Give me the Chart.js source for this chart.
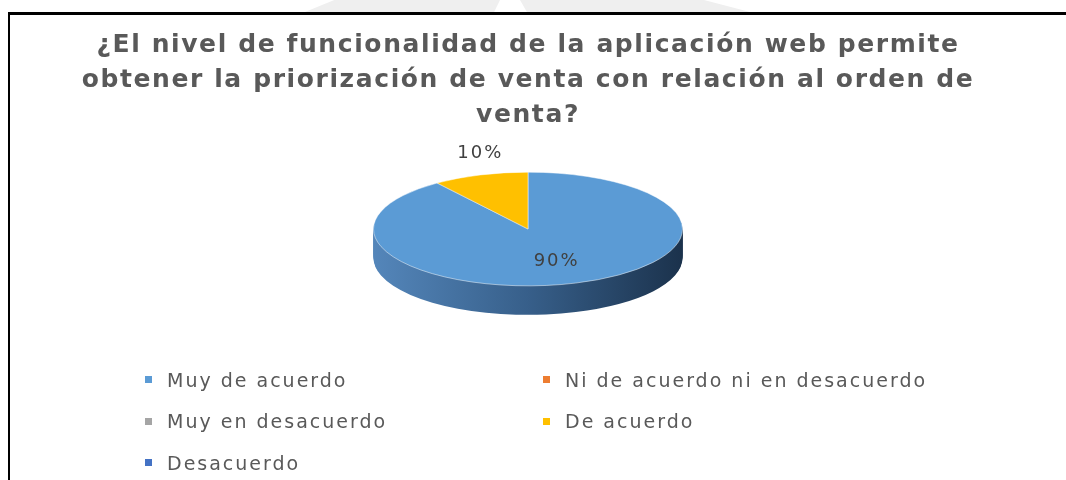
<!DOCTYPE html>
<html>
<head>
<meta charset="utf-8">
<script src="https://cdn.jsdelivr.net/npm/chart.js@4.4.1/dist/chart.umd.min.js"></script>
<style>
  html, body { margin: 0; padding: 0; background: #fff; }
  #wrap { position: relative; width: 1066px; height: 480px; overflow: hidden; }
  #wrap canvas { position: absolute; left: 0; top: 0; }
  #frame { position: absolute; left: 8px; top: 12px; right: -4px; bottom: -4px;
           border-top: 3px solid #000; border-left: 2px solid #000; pointer-events: none; }
  .wm { position: absolute; top: 0; height: 12px; background: #efefef; }
  #legend { position: absolute; left: 145px; top: 359px; display: grid;
            grid-template-columns: 398px auto; grid-auto-rows: 41.5px; }
  #legend .item { display: flex; align-items: center; font-family: 'DejaVu Sans', sans-serif;
                  font-size: 19px; letter-spacing: 2px; color: #595959; white-space: nowrap; }
  #legend .box { width: 7px; height: 7px; margin-right: 15px; flex: none; }
</style>
</head>
<body>
<div id="wrap">
  <div class="wm" style="left:305px;width:195px;clip-path:polygon(0 100%,15% 0,100% 0,97% 100%)"></div>
  <div class="wm" style="left:520px;width:230px;clip-path:polygon(3% 100%,0 0,80% 0,100% 100%)"></div>
  <canvas id="chart" width="1066" height="480"></canvas>
  <div id="frame"></div>
  <div id="legend"></div>
</div>
<script>
const TITLE_LINES = [
  '¿El nivel de funcionalidad de la aplicación web permite',
  'obtener la priorización de venta con relación al orden de',
  'venta?'
];
const LABELS = ['Muy de acuerdo', 'Ni de acuerdo ni en desacuerdo', 'Muy en desacuerdo', 'De acuerdo', 'Desacuerdo'];
const VALUES = [90, 0, 0, 10, 0]; // percent of answers
const COLORS = ['#5b9bd5', '#ed7d31', '#a5a5a5', '#ffc000', '#4472c4'];

// squashes the pie into an ellipse and extrudes a side wall, Excel 3D style
const tiltPie = {
  id: 'tiltPie',
  beforeDraw(chart) { chart.ctx.letterSpacing = '1.6px'; },
  beforeDatasetsDraw(chart, args, opts) {
    const ctx = chart.ctx;
    const arcs = chart.getDatasetMeta(0).data;
    const cx = arcs[0].x, cy = arcs[0].y, r = arcs[0].outerRadius;
    ctx.save();
    ctx.translate(0, opts.lift);
    ctx.translate(cx, cy);
    ctx.scale(1, opts.tilt);
    ctx.translate(-cx, -cy);
    const grad = ctx.createLinearGradient(cx - r, 0, cx + r, 0);
    grad.addColorStop(0, '#5486ba');
    grad.addColorStop(0.5, '#375f8a');
    grad.addColorStop(1, '#1b324c');
    for (let d = opts.depth; d > 0; d--) {
      ctx.save();
      ctx.translate(0, d / opts.tilt);
      arcs.forEach(arc => {
        if (!arc.circumference) return;
        const keep = arc.options;
        arc.options = Object.assign({}, keep, { backgroundColor: grad, borderWidth: 0 });
        arc.draw(ctx);
        arc.options = keep;
      });
      ctx.restore();
    }
  },
  afterDatasetsDraw(chart, args, opts) {
    const ctx = chart.ctx;
    ctx.restore();
    const arcs = chart.getDatasetMeta(0).data;
    const total = VALUES.reduce((s, v) => s + v, 0);
    ctx.save();
    ctx.letterSpacing = '2px';
    ctx.font = '18px "DejaVu Sans"';
    ctx.fillStyle = '#404040';
    ctx.textAlign = 'center';
    ctx.textBaseline = 'middle';
    arcs.forEach((arc, i) => {
      if (!VALUES[i]) return;
      const mid = (arc.startAngle + arc.endAngle) / 2;
      const share = VALUES[i] / total;
      const f = share < 0.2 ? 1 : 0.6;
      let x = arc.x + Math.cos(mid) * arc.outerRadius * f;
      let y = arc.y + Math.sin(mid) * arc.outerRadius * f * opts.tilt + opts.lift;
      if (share < 0.2) y -= 22;
      ctx.fillText(Math.round(share * 100) + '%', x, y);
    });
    ctx.restore();
  },
  afterDraw(chart) { chart.ctx.letterSpacing = '0px'; }
};

new Chart(document.getElementById('chart'), {
  type: 'pie',
  data: {
    labels: LABELS,
    datasets: [{ data: VALUES, backgroundColor: COLORS, borderColor: 'rgba(255,255,255,0.7)', borderWidth: 1 }]
  },
  options: {
    responsive: false,
    animation: false,
    events: [],
    layout: { padding: { left: 0, right: 10, top: 0, bottom: 27 } },
    plugins: {
      legend: { display: false },
      tooltip: { enabled: false },
      title: {
        display: true,
        text: TITLE_LINES,
        color: '#595959',
        font: { family: 'DejaVu Sans', size: 25, weight: 'bold', lineHeight: 1.4 },
        padding: { top: 28, bottom: 10 }
      },
      tiltPie: { tilt: 0.368, depth: 29, lift: -69 }
    }
  },
  plugins: [tiltPie]
});

const legend = document.getElementById('legend');
LABELS.forEach((label, i) => {
  const item = document.createElement('div');
  item.className = 'item';
  item.innerHTML = `<span class="box" style="background:${COLORS[i]}"></span>${label}`;
  legend.appendChild(item);
});
</script>
</body>
</html>
